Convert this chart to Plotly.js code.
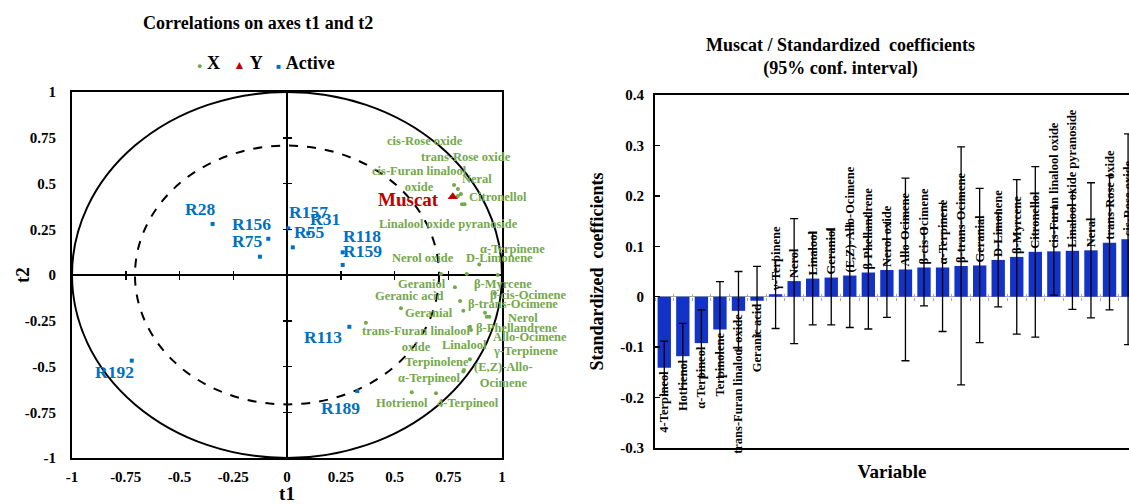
<!DOCTYPE html>
<html>
<head>
<meta charset="utf-8">
<script src="https://cdn.plot.ly/plotly-3.0.1.min.js"></script>
<style>
html,body{margin:0;padding:0;background:#fff;overflow:hidden;}
#chart{width:1129px;height:504px;}
</style>
</head>
<body>
<div id="chart"></div>
<script>
// ---------- Left panel: correlation circle ----------
const xVarNames = ['cis-Rose oxide','trans-Rose oxide','cis-Furan linalool oxide','Neral','Citronellol','Linalool oxide pyranoside','α-Terpinene','D-Limonene','Nerol oxide','Geraniol','β-Myrcene','Geranic acid','β-cis-Ocimene','β-trans-Ocimene','Geranial','Nerol','Allo-Ocimene','γ-Terpinene','β-Phellandrene','Linalool','trans-Furan linalool oxide','Terpinolene','(E,Z)-Allo-Ocimene','α-Terpineol','Hotrienol','4-Terpineol'];
const xVarT1 = [0.777,0.795,0.795,0.809,0.826,0.814,0.980,0.894,0.716,0.781,0.836,0.530,0.967,0.805,0.820,0.921,0.929,0.941,0.851,0.856,0.367,0.851,0.823,0.820,0.580,0.693];
const xVarT2 = [0.492,0.470,0.432,0.443,0.386,0.386,0.000,0.058,0.005,-0.067,0.005,-0.182,-0.100,-0.142,-0.195,-0.206,-0.228,-0.228,-0.283,-0.301,-0.261,-0.461,-0.519,-0.528,-0.641,-0.646];

const yVarNames = ['Muscat'];
const yVarT1 = [0.771];
const yVarT2 = [0.428];

const obsNames = ['R28','R156','R75','R192','R157','R31','R55','R118','R159','R113','R189'];
const obsT1 = [-0.346,-0.087,-0.126,-0.722,0.006,0.099,0.027,0.259,0.259,0.290,0.327];
const obsT2 = [0.279,0.198,0.100,-0.468,0.255,0.228,0.151,0.124,0.055,-0.283,-0.634];

const axisTickVals = [-1,-0.75,-0.5,-0.25,0,0.25,0.5,0.75,1];
const axisTickText = ['-1','-0.75','-0.5','-0.25','0','0.25','0.5','0.75','1'];

// ---------- Right panel: standardized coefficients ----------
const coefNames = ['4-Terpineol','Hotrienol','α-Terpineol','Terpinolene','trans-Furan linalool oxide','Geranic acid','γ-Terpinene','Nerol','Linalool','Geraniol','(E,Z)-Allo-Ocimene','β-Phellandrene','Nerol oxide','Allo-Ocimene','β-cis-Ocimene','α-Terpinene','β-trans-Ocimene','Geranial','D-Limonene','β-Myrcene','Citronellol','cis-Furan linalool oxide','Linalool oxide pyranoside','Neral','trans-Rose oxide','cis-Rose oxide'];
const coefValues = [-0.141,-0.118,-0.092,-0.065,-0.028,-0.008,0.005,0.031,0.036,0.038,0.042,0.048,0.053,0.054,0.058,0.058,0.061,0.062,0.073,0.079,0.089,0.090,0.091,0.092,0.107,0.114];
const coefCI = [0.053,0.065,0.066,0.095,0.078,0.068,0.068,0.124,0.092,0.094,0.103,0.112,0.094,0.181,0.076,0.127,0.236,0.153,0.093,0.153,0.169,0.087,0.116,0.134,0.133,0.209];
const coefTickVals = [-0.3,-0.2,-0.1,0,0.1,0.2,0.3,0.4];
const coefTickText = ['-0.3','-0.2','-0.1','0','0.1','0.2','0.3','0.4'];

// ---------- label placement (pixel offsets of each label from its point) ----------
const xVarLabelShift = [[-29,44],[8,32],[-38,17],[16,15],[33,7],[-14,-20],[15,26],[20,6],[-18,16],[-33,3],[36,-10],[8,12],[33,-2],[53,-3],[-34,-2],[38,-5],[43,-20],[36,-34],[47,-1],[-7,-15],[51,-16],[-33,-3],[40,-5],[-34,-6],[-10,-11],[32,-10]];
const obsLabelShift = [[-13,15],[-17,15],[-13,16],[-17,-11],[20,16],[17,14],[16,15],[19,16],[20,14],[-26,-10],[-17,-17]];
const yVarLabelShift = [[-44,-3]];
const wrapLabels = {'cis-Furan linalool oxide':'cis-Furan linalool<br>oxide','trans-Furan linalool oxide':'trans-Furan linalool<br>oxide','(E,Z)-Allo-Ocimene':'(E,Z)-Allo-<br>Ocimene'};

const SERIF = 'Liberation Serif, Times New Roman, serif';
const GREEN = '#74A84C';
const BLUE = '#0070C0';
const RED = '#C00000';
const BARBLUE = '#1233C6';

const L = {x0:72/1129, x1:502/1129, y0:1-458/504, y1:1-92/504};
const R = {x0:655/1129, x1:1, y0:1-448/504, y1:1-95/504};
const lxc = (L.x0+L.x1)/2, lyc = (L.y0+L.y1)/2;
const ry0 = R.y0 + (0.3/0.7)*(R.y1-R.y0);

const traces = [
  {type:'scatter', mode:'markers', name:'X', x:xVarT1, y:xVarT2, xaxis:'x', yaxis:'y',
   marker:{color:GREEN, size:4, symbol:'circle'}, hoverinfo:'skip'},
  {type:'scatter', mode:'markers', name:'Y', x:yVarT1, y:yVarT2, xaxis:'x', yaxis:'y',
   marker:{color:RED, size:9, symbol:'triangle-up'}, hoverinfo:'skip'},
  {type:'scatter', mode:'markers', name:'Active', x:obsT1, y:obsT2, xaxis:'x', yaxis:'y',
   marker:{color:BLUE, size:4, symbol:'square'}, hoverinfo:'skip'},
  {type:'scatter', x:[null], y:[null], xaxis:'x3', yaxis:'y3', showlegend:false, hoverinfo:'skip'},
  {type:'scatter', x:[null], y:[null], xaxis:'x4', yaxis:'y4', showlegend:false, hoverinfo:'skip'},
  {type:'bar', x:coefNames, y:coefValues, xaxis:'x2', yaxis:'y2', showlegend:false,
   marker:{color:BARBLUE, line:{width:0}},
   error_y:{type:'data', array:coefCI, visible:true, color:'#000', thickness:1.3, width:4},
   text:coefNames, textposition:'outside', textangle:-90, constraintext:'none', cliponaxis:false,
   textfont:{family:SERIF, size:12.5, color:'#000', weight:700}, hoverinfo:'skip'},
  {type:'scatter', x:[null], y:[null], xaxis:'x5', yaxis:'y2', showlegend:false, hoverinfo:'skip'},
  {type:'scatter', x:[null], y:[null], xaxis:'x6', yaxis:'y2', showlegend:false, hoverinfo:'skip'}
];

const annotations = [];
function addLabels(names, xs, ys, shifts, color, size){
  names.forEach((n,i)=>{
    annotations.push({xref:'x', yref:'y', x:xs[i], y:ys[i], text:wrapLabels[n]||n, showarrow:false,
      xshift:shifts[i][0], yshift:shifts[i][1], xanchor:'center', yanchor:'middle',
      font:{family:SERIF, size:size, color:color, weight:700}});
  });
}
addLabels(xVarNames, xVarT1, xVarT2, xVarLabelShift, GREEN, 12.5);
addLabels(obsNames, obsT1, obsT2, obsLabelShift, BLUE, 17.5);
addLabels(yVarNames, yVarT1, yVarT2, yVarLabelShift, RED, 19);

annotations.push({xref:'paper', yref:'paper', x:258/1129, y:1-23/504, text:'Correlations on axes t1 and t2',
  showarrow:false, xanchor:'center', yanchor:'middle', font:{family:SERIF, size:18, color:'#000', weight:700}});
annotations.push({xref:'paper', yref:'paper', x:840/1129, y:1-57/504, text:'Muscat / Standardized  coefficients<br>(95% conf. interval)',
  showarrow:false, xanchor:'center', yanchor:'middle', font:{family:SERIF, size:18, color:'#000', weight:700}});
// y-axis title of the left panel, set tight against its tick labels
annotations.push({xref:'paper', yref:'paper', x:22/1129, y:lyc, text:'t2', textangle:-90, showarrow:false,
  xanchor:'center', yanchor:'middle', font:{family:SERIF, size:19, color:'#000', weight:700}});
// key for the three series (X, Y, Active)
const NB = '\u00A0';
annotations.push({xref:'paper', yref:'paper', x:266/1129, y:1-63/504, showarrow:false, xanchor:'center', yanchor:'middle',
  font:{family:SERIF, size:18, color:'#000', weight:700},
  text:'<span style="color:'+GREEN+';font-size:9px">●</span>'+NB+'X'+NB+NB+NB+
       '<span style="color:'+RED+';font-size:12px">▲</span>'+NB+'Y'+NB+NB+NB+
       '<span style="color:'+BLUE+';font-size:8px">■</span>'+NB+'Active'});

const tickAx = (extra)=>Object.assign({range:[-1,1], tickvals:[-0.75,-0.5,-0.25,0.25,0.5,0.75], ticklen:4, tickwidth:1.5,
  tickcolor:'#000', showticklabels:false, showline:false, showgrid:false, zeroline:false, anchor:'free', fixedrange:true}, extra);

const layout = {
  width:1129, height:504, margin:{l:0,r:0,t:0,b:0}, paper_bgcolor:'#fff', plot_bgcolor:'#fff',
  hovermode:false, bargap:0.28,
  font:{family:SERIF, color:'#000'},
  showlegend:false,
  xaxis:{domain:[L.x0,L.x1], anchor:'y', range:[-1,1], tickvals:axisTickVals, ticktext:axisTickText,
    ticks:'', showgrid:false, showline:true, mirror:true, linecolor:'#000', linewidth:2,
    zeroline:true, zerolinecolor:'#000', zerolinewidth:1.5, ticklabelstandoff:4,
    tickfont:{family:SERIF, size:15, weight:700},
    title:{text:'t1', font:{family:SERIF, size:19, weight:700}, standoff:4}},
  yaxis:{domain:[L.y0,L.y1], anchor:'x', range:[-1,1], tickvals:axisTickVals, ticktext:axisTickText,
    ticks:'', showgrid:false, showline:true, mirror:true, linecolor:'#000', linewidth:2,
    zeroline:true, zerolinecolor:'#000', zerolinewidth:1.5, ticklabelstandoff:11,
    tickfont:{family:SERIF, size:15, weight:700}},
  xaxis3:tickAx({overlaying:'x', position:lyc, ticks:'outside'}),
  xaxis4:tickAx({overlaying:'x', position:lyc, ticks:'inside'}),
  yaxis3:tickAx({overlaying:'y', position:lxc, ticks:'outside'}),
  yaxis4:tickAx({overlaying:'y', position:lxc, ticks:'inside'}),
  xaxis2:{domain:[R.x0,R.x1], anchor:'y2', type:'category', range:[-0.5,25.05], showticklabels:false, ticks:'',
    showgrid:false, showline:true, mirror:true, linecolor:'#000', linewidth:2, zeroline:false,
    title:{text:'Variable', font:{family:SERIF, size:19, weight:700}, standoff:16}},
  yaxis2:{domain:[R.y0,R.y1], anchor:'x2', range:[-0.3,0.4], tickvals:coefTickVals, ticktext:coefTickText,
    ticks:'inside', ticklen:5, tickwidth:1.5, tickcolor:'#000', showgrid:false, showline:true, mirror:false,
    linecolor:'#000', linewidth:2, zeroline:true, zerolinecolor:'#a8a8a8', zerolinewidth:1.5, ticklabelstandoff:6,
    tickfont:{family:SERIF, size:15, weight:700},
    title:{text:'Standardized  coefficients', font:{family:SERIF, size:18, weight:700}, standoff:12}},
  xaxis5:{overlaying:'x2', anchor:'free', position:ry0, range:[-0.5,25.05], tickmode:'linear', tick0:0.5, dtick:1,
    ticks:'outside', ticklen:3, tickwidth:1, tickcolor:'#a8a8a8', showticklabels:false, showline:false, showgrid:false, zeroline:false},
  xaxis6:{overlaying:'x2', anchor:'free', position:ry0, range:[-0.5,25.05], tickmode:'linear', tick0:0.5, dtick:1,
    ticks:'inside', ticklen:3, tickwidth:1, tickcolor:'#a8a8a8', showticklabels:false, showline:false, showgrid:false, zeroline:false},
  shapes:[
    {type:'circle', xref:'x', yref:'y', x0:-1, y0:-1, x1:1, y1:1, line:{color:'#000', width:2}, layer:'below'},
    {type:'circle', xref:'x', yref:'y', x0:-Math.SQRT1_2, y0:-Math.SQRT1_2, x1:Math.SQRT1_2, y1:Math.SQRT1_2,
     line:{color:'#000', width:2, dash:'dash'}, layer:'below'}
  ],
  annotations:annotations
};

Plotly.newPlot('chart', traces, layout, {staticPlot:true, displayModeBar:false});
</script>
</body>
</html>
